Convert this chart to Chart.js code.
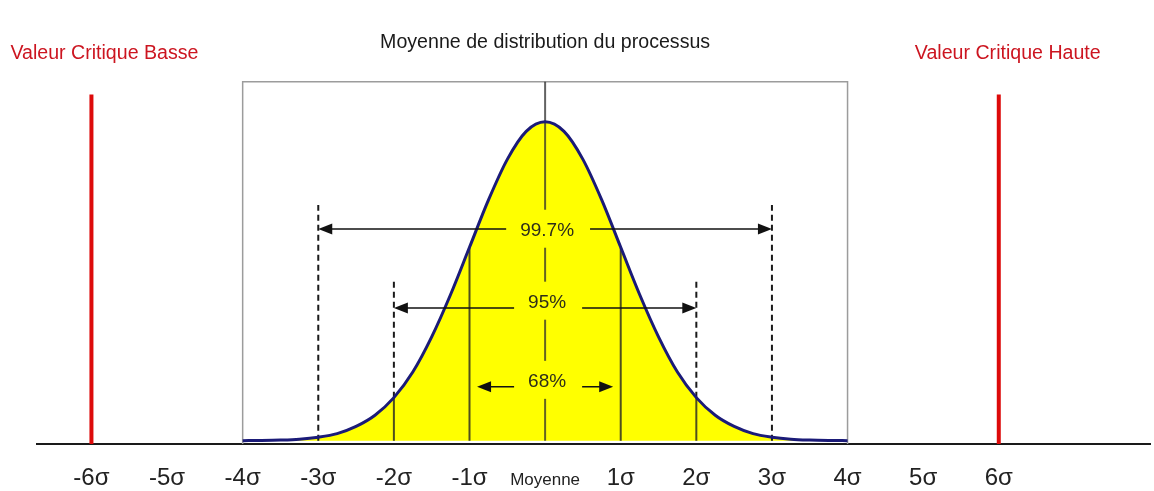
<!DOCTYPE html>
<html>
<head>
<meta charset="utf-8">
<script src="https://cdn.jsdelivr.net/npm/chart.js@4/dist/chart.umd.min.js"></script>
<style>
  html, body { margin: 0; padding: 0; background: #ffffff; }
  canvas { display: block; }
</style>
</head>
<body>
<canvas id="chart" width="1154" height="491"></canvas>
<script>
// Normal distribution of the process, in units of sigma
const curveX = [-4, -3.75, -3.5, -3.25, -3, -2.75, -2.5, -2.25, -2, -1.75, -1.5, -1.25, -1, -0.75, -0.5, -0.25,
                0, 0.25, 0.5, 0.75, 1, 1.25, 1.5, 1.75, 2, 2.25, 2.5, 2.75, 3, 3.25, 3.5, 3.75, 4];
const curveY = [0.0002, 0.0004, 0.0009, 0.002, 0.0045, 0.009, 0.018, 0.032, 0.054, 0.086, 0.130, 0.183, 0.242, 0.301, 0.352, 0.387,
                0.399, 0.387, 0.352, 0.301, 0.242, 0.183, 0.130, 0.086, 0.054, 0.032, 0.018, 0.009, 0.0045, 0.002, 0.0009, 0.0004, 0.0002];

// Axis ticks
const tickValues = [-6, -5, -4, -3, -2, -1, 0, 1, 2, 3, 4, 5, 6];
const tickLabels = ['-6σ', '-5σ', '-4σ', '-3σ', '-2σ', '-1σ', 'Moyenne', '1σ', '2σ', '3σ', '4σ', '5σ', '6σ'];

// Critical limits
const criticalValues = [-6, 6];
const criticalLabels = ['Valeur Critique Basse', 'Valeur Critique Haute'];
const criticalTop = 0.433;

// Coverage bands
const bandNames = ['99.7%', '95%', '68%'];
const bandFrom = [-3, -2, -0.9];
const bandTo = [3, 2, 0.9];
const bandLevel = [0.265, 0.166, 0.0675];
const bandTextLevel = [0.264, 0.174, 0.075];

// Sigma markers
const sigmaSolidX = [-2, -1, 1, 2];
const sigmaSolidTop = [0.054, 0.242, 0.242, 0.054];
const sigmaDashX = [-3, -2, 2, 3];
const sigmaDashFrom = [0, 0.054, 0.054, 0];
const sigmaDashTo = [0.295, 0.201, 0.201, 0.295];

// Frame around the distribution
const boxX = [-4, 4];
const boxTop = 0.449;

const titleText = 'Moyenne de distribution du processus';

const FONT = "'Liberation Sans', Arial, sans-serif";
const YELLOW = '#ffff00';
const NAVY = '#1b1b78';
const RED_LINE = '#dd0a0a';
const RED_TEXT = '#cc1520';

const datasets = [];

// Curve (drawn last, on top)
datasets.push({
  data: curveX.map((x, i) => ({ x, y: curveY[i] })),
  borderColor: NAVY,
  borderWidth: 3,
  backgroundColor: YELLOW,
  fill: 'origin',
  pointRadius: 0,
  cubicInterpolationMode: 'monotone'
});

// Center line (mean)
datasets.push({
  data: [{ x: 0, y: 0 }, { x: 0, y: boxTop }],
  borderColor: 'rgba(45,45,45,0.75)',
  borderWidth: 2,
  pointRadius: 0,
  fill: false
});

// Solid sigma lines under the curve
sigmaSolidX.forEach((x, i) => {
  datasets.push({
    data: [{ x, y: 0 }, { x, y: sigmaSolidTop[i] }],
    borderColor: 'rgba(35,35,35,0.8)',
    borderWidth: 2,
    pointRadius: 0,
    fill: false
  });
});

// Dashed sigma lines
sigmaDashX.forEach((x, i) => {
  datasets.push({
    data: [{ x, y: sigmaDashFrom[i] }, { x, y: sigmaDashTo[i] }],
    borderColor: '#1a1a1a',
    borderWidth: 2,
    borderDash: [6, 4],
    pointRadius: 0,
    fill: false
  });
});

// Frame
datasets.push({
  data: [{ x: boxX[0], y: -0.004 }, { x: boxX[0], y: boxTop }, { x: boxX[1], y: boxTop }, { x: boxX[1], y: -0.004 }],
  borderColor: '#9c9c9c',
  borderWidth: 1.5,
  pointRadius: 0,
  fill: false,
  tension: 0
});

// Critical limit lines
criticalValues.forEach((x) => {
  datasets.push({
    data: [{ x, y: -0.004 }, { x, y: criticalTop }],
    borderColor: RED_LINE,
    borderWidth: 4,
    pointRadius: 0,
    fill: false
  });
});

function drawArrowHead(ctx, xTip, y, dir) {
  const len = 14, half = 5.5;
  ctx.beginPath();
  ctx.moveTo(xTip, y);
  ctx.lineTo(xTip - dir * len, y - half);
  ctx.lineTo(xTip - dir * len, y + half);
  ctx.closePath();
  ctx.fill();
}

const annotations = {
  id: 'annotations',
  afterDatasetsDraw(chart) {
    const ctx = chart.ctx;
    const xs = chart.scales.x;
    const ys = chart.scales.y;
    const top = chart.chartArea.top;
    ctx.save();

    // Coverage arrows
    ctx.strokeStyle = '#111';
    ctx.fillStyle = '#111';
    ctx.lineWidth = 1.5;
    bandNames.forEach((name, i) => {
      const y = ys.getPixelForValue(bandLevel[i]);
      const x1 = xs.getPixelForValue(bandFrom[i]);
      const x2 = xs.getPixelForValue(bandTo[i]);
      ctx.beginPath();
      ctx.moveTo(x1 + 4, y);
      ctx.lineTo(x2 - 4, y);
      ctx.stroke();
      drawArrowHead(ctx, x1, y, -1);
      drawArrowHead(ctx, x2, y, 1);
    });

    // Coverage labels on a yellow patch
    ctx.font = '19px ' + FONT;
    ctx.textAlign = 'center';
    ctx.textBaseline = 'middle';
    const cx = xs.getPixelForValue(0);
    bandNames.forEach((name, i) => {
      const ty = ys.getPixelForValue(bandTextLevel[i]);
      const w = ctx.measureText(name).width;
      ctx.fillStyle = YELLOW;
      ctx.fillRect(cx - w / 2 - 12, ty - 20, w + 30, 38);
      ctx.fillStyle = '#2e2e1a';
      ctx.fillText(name, cx + 2, ty + 1);
    });

    // Title over the mean
    ctx.fillStyle = '#1a1a1a';
    ctx.font = '19.6px ' + FONT;
    ctx.fillText(titleText, cx, top - 38);

    // Critical limit captions
    ctx.fillStyle = RED_TEXT;
    ctx.font = '19.6px ' + FONT;
    criticalValues.forEach((v, i) => {
      const px = xs.getPixelForValue(v);
      ctx.fillText(criticalLabels[i], px + (i === 0 ? 13 : 9), top - 27);
    });

    ctx.restore();
  }
};

new Chart(document.getElementById('chart'), {
  type: 'line',
  data: { datasets },
  options: {
    responsive: false,
    animation: false,
    parsing: true,
    layout: { padding: { left: 37, right: 4, top: 81, bottom: 0 } },
    plugins: {
      legend: { display: false },
      title: { display: false },
      tooltip: { enabled: false },
      filler: { drawTime: 'beforeDatasetsDraw' }
    },
    scales: {
      x: {
        type: 'linear',
        min: -6.72,
        max: 8.0,
        grid: { display: false, drawTicks: false },
        border: { display: true, color: '#1a1a1a', width: 2 },
        afterBuildTicks(scale) {
          scale.ticks = tickValues.map(v => ({ value: v }));
        },
        afterFit(scale) {
          scale.height = 47;
        },
        ticks: {
          autoSkip: false,
          maxRotation: 0,
          padding: 20,
          color: '#222',
          callback: (value) => {
            const i = tickValues.indexOf(value);
            return i >= 0 ? tickLabels[i] : '';
          },
          font: (c) => (c.tick && c.tick.value === 0)
            ? { family: FONT, size: 17, lineHeight: 1.93 }
            : { family: FONT, size: 24 }
        }
      },
      y: {
        type: 'linear',
        display: false,
        min: -0.004,
        max: 0.45
      }
    }
  },
  plugins: [annotations]
});
</script>
</body>
</html>
